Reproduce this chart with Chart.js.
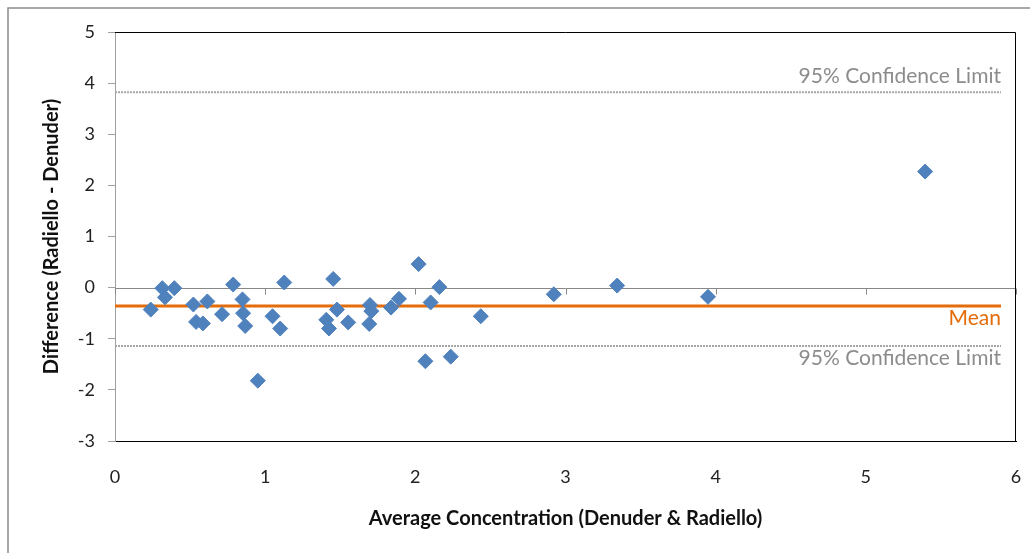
<!DOCTYPE html>
<html>
<head>
<meta charset="utf-8">
<script src="https://cdn.jsdelivr.net/npm/chart.js@4.4.0/dist/chart.umd.min.js"></script>
<style>
  html, body { margin: 0; padding: 0; background: #fff; overflow: hidden; }
  canvas { display: block; }
</style>
</head>
<body>
<canvas id="myChart" width="1030" height="553"></canvas>
<script>
// x = average of the two methods, y = difference
const avgConc = [0.238, 0.315, 0.333, 0.395, 0.522, 0.54, 0.585, 0.615, 0.713, 0.787,
  0.849, 0.853, 0.867, 0.951, 1.049, 1.10, 1.127, 1.407, 1.425, 1.453, 1.478, 1.553,
  1.693, 1.698, 1.707, 1.838, 1.891, 2.022, 2.067, 2.102, 2.16, 2.236, 2.436, 2.922,
  3.344, 3.949, 5.395];
const difference = [-0.43, -0.01, -0.19, -0.01, -0.33, -0.67, -0.70, -0.27, -0.52, 0.06,
  -0.23, -0.50, -0.75, -1.82, -0.56, -0.80, 0.10, -0.63, -0.80, 0.17, -0.43, -0.68,
  -0.71, -0.34, -0.46, -0.39, -0.22, 0.46, -1.44, -0.29, 0.01, -1.35, -0.56, -0.13,
  0.04, -0.18, 2.27];
const meanDiff = -0.36;
const upperLimit = 3.82;
const lowerLimit = -1.14;
const lineX = [0, 5.9];
const xTicks = [0, 1, 2, 3, 4, 5, 6];

const FONT = "Lato, 'Open Sans', sans-serif";

function hLine(v) {
  return lineX.map(x => ({ x: x, y: v }));
}

const decor = {
  id: "decor",
  beforeDraw(chart) {
    const ctx = chart.ctx;
    ctx.save();
    ctx.strokeStyle = "#8c8c8c";
    ctx.lineWidth = 1.5;
    ctx.strokeRect(8, 8, chart.width + 10, chart.height + 10);
    ctx.restore();
  },
  beforeDatasetsDraw(chart) {
    const ctx = chart.ctx;
    const a = chart.chartArea;
    const xs = chart.scales.x, ys = chart.scales.y;
    const y0 = Math.round(ys.getPixelForValue(0)) + 0.5;
    ctx.save();
    ctx.strokeStyle = "#888";
    ctx.lineWidth = 1;
    ctx.beginPath();
    ctx.moveTo(a.left, y0);
    ctx.lineTo(a.right, y0);
    xTicks.forEach(t => {
      const px = Math.round(xs.getPixelForValue(t)) + 0.5;
      ctx.moveTo(px, y0);
      ctx.lineTo(px, y0 + 6);
    });
    ctx.stroke();
    // top and right edge of the plot area
    ctx.strokeStyle = "#000";
    ctx.beginPath();
    ctx.moveTo(a.left, a.top + 0.5);
    ctx.lineTo(a.right - 0.5, a.top + 0.5);
    ctx.lineTo(a.right - 0.5, a.bottom);
    ctx.stroke();
    ctx.restore();
  },
  afterDatasetsDraw(chart) {
    const ctx = chart.ctx;
    const xs = chart.scales.x, ys = chart.scales.y;
    const right = xs.getPixelForValue(lineX[1]);
    ctx.save();
    ctx.font = "21px " + FONT;
    ctx.textAlign = "right";
    ctx.textBaseline = "middle";
    ctx.fillStyle = "#8c8c8c";
    ctx.fillText("95% Confidence Limit", right, ys.getPixelForValue(upperLimit) - 16);
    ctx.fillText("95% Confidence Limit", right, ys.getPixelForValue(lowerLimit) + 12);
    ctx.fillStyle = "#E46C0A";
    ctx.fillText("Mean", right, ys.getPixelForValue(meanDiff) + 12);
    ctx.restore();
  }
};

new Chart("myChart", {
  type: "scatter",
  data: {
    datasets: [
      {
        label: "Difference",
        data: avgConc.map((x, i) => ({ x: x, y: difference[i] })),
        backgroundColor: "#4F81BD",
        borderColor: "#4F81BD",
        borderWidth: 1,
        pointStyle: "rectRot",
        pointRadius: 7.5,
        pointHoverRadius: 7.5,
      },
      {
        label: "Mean",
        data: hLine(meanDiff),
        showLine: true,
        borderColor: "#E46C0A",
        borderWidth: 3,
        pointRadius: 0,
      },
      {
        label: "Upper limit",
        data: hLine(upperLimit),
        showLine: true,
        borderColor: "#a6a6a6",
        borderWidth: 2,
        borderDash: [2, 1],
        pointRadius: 0,
      },
      {
        label: "Lower limit",
        data: hLine(lowerLimit),
        showLine: true,
        borderColor: "#a6a6a6",
        borderWidth: 2,
        borderDash: [2, 1],
        pointRadius: 0,
      },
    ],
  },
  options: {
    responsive: false,
    animation: false,
    events: [],
    layout: { padding: { left: 0, top: 32, right: 14, bottom: 0 } },
    plugins: {
      legend: { display: false },
      tooltip: { enabled: false },
    },
    scales: {
      x: {
        type: "linear",
        min: 0,
        max: 6,
        afterFit: s => { s.height = 112; s.paddingLeft = 0; s.paddingRight = 0; },
        afterBuildTicks: s => { s.ticks = xTicks.map(v => ({ value: v })); },
        grid: { drawOnChartArea: false, drawTicks: false },
        border: { color: "#000", width: 1 },
        ticks: { padding: 25, color: "#222", font: { family: FONT, size: 18 } },
        title: {
          display: true,
          text: "Average Concentration (Denuder & Radiello)",
          color: "#111",
          font: { family: FONT, size: 20, weight: "bold" },
          padding: { top: 0, bottom: 22 },
        },
      },
      y: {
        min: -3,
        max: 5,
        afterFit: s => { s.width = 115; s.paddingTop = 0; s.paddingBottom = 0; },
        grid: { drawOnChartArea: false, drawTicks: true, tickLength: 7, color: "#a0a0a0" },
        border: { color: "#a0a0a0", width: 1 },
        ticks: { stepSize: 1, padding: 13, color: "#222", font: { family: FONT, size: 18 } },
        title: {
          display: true,
          text: "Difference (Radiello - Denuder)",
          color: "#111",
          font: { family: FONT, size: 20, weight: "bold" },
          padding: { top: 40, bottom: 0 },
        },
      },
    },
  },
  plugins: [decor],
});
</script>
</body>
</html>
